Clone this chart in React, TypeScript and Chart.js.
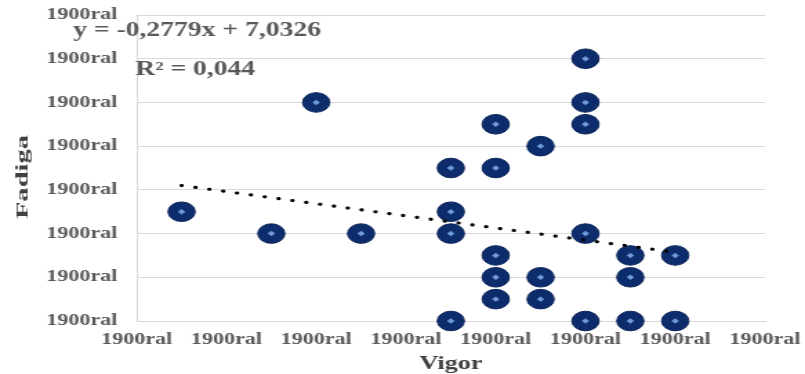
import { useEffect, useRef } from 'react';
import { Chart, registerables } from 'chart.js';

Chart.register(...registerables);

// ---- data ----
const vigor = [3, 5, 7, 6, 9, 9, 9, 9, 10, 10, 10, 10, 10, 11, 11, 11, 12, 12, 12, 12, 12, 13, 13, 13, 14, 14];
const fadiga = [5, 4, 4, 10, 7, 5, 4, 0, 9, 7, 3, 2, 1, 8, 2, 1, 12, 10, 9, 4, 0, 3, 2, 0, 3, 0];
const trendSlope = -0.2779;
const trendIntercept = 7.0326;
const trendRange = [3, 14];
const xAxisRange = [2, 16, 2];
const yAxisRange = [0, 14, 2];
const tickLabel = '1900ral';
const equationText = 'y = -0,2779x + 7,0326';
const r2Text = 'R² = 0,044';
const xTitle = 'Vigor';
const yTitle = 'Fadiga';

const STRETCH = 1.38;
const W = Math.round(805 / STRETCH);
const H = 374;
const SERIF = '"Liberation Serif", "Times New Roman", serif';

const textPlugin = {
  id: 'extraTexts',
  afterDraw(chart: any) {
    const { ctx } = chart;
    ctx.save();
    ctx.fillStyle = '#595959';
    ctx.font = `bold 20px ${SERIF}`;
    ctx.textBaseline = 'middle';
    ctx.textAlign = 'left';
    ctx.fillText(equationText, 53, 31);
    ctx.fillText(r2Text, 98, 70);
    ctx.restore();

    ctx.save();
    ctx.fillStyle = '#404040';
    ctx.translate(16.3, 177);
    ctx.rotate(-Math.PI / 2);
    ctx.scale(2.2, 1);
    ctx.font = `bold 13px ${SERIF}`;
    ctx.textAlign = 'center';
    ctx.textBaseline = 'middle';
    ctx.fillText(yTitle, 0, 0);
    ctx.restore();
  },
};

export default function App() {
  const ref = useRef<HTMLCanvasElement | null>(null);

  useEffect(() => {
    document.body.style.margin = '0';
    document.body.style.overflow = 'hidden';
    const canvas = ref.current!;
    const points = vigor.map((x, i) => ({ x, y: fadiga[i] }));
    const trend = trendRange.map((x) => ({ x, y: trendSlope * x + trendIntercept }));

    const chart = new Chart(canvas, {
      type: 'scatter',
      data: {
        datasets: [
          {
            type: 'line',
            label: 'trend',
            data: trend,
            borderColor: '#000000',
            borderWidth: 3.2,
            borderDash: [0.1, 10.1],
            borderCapStyle: 'round',
            pointRadius: 0,
            fill: false,
            order: 0,
            clip: false,
          } as any,
          {
            label: 'inner',
            data: points,
            pointStyle: 'rectRot',
            pointRadius: 2.7,
            backgroundColor: '#6f9bd8',
            borderWidth: 0,
            order: 1,
            clip: false,
          } as any,
          {
            label: 'Fadiga',
            data: points,
            pointStyle: 'circle',
            pointRadius: 9.8,
            backgroundColor: '#0d2c6b',
            borderColor: '#0a2358',
            borderWidth: 1,
            order: 2,
            clip: false,
          } as any,
        ],
      },
      options: {
        animation: false,
        responsive: false,
        devicePixelRatio: 1,
        layout: { padding: { left: 33, right: 29, top: 15, bottom: 0 } },
        plugins: {
          legend: { display: false },
          tooltip: { enabled: false },
        },
        scales: {
          x: {
            type: 'linear',
            min: xAxisRange[0],
            max: xAxisRange[1],
            grid: { display: false, drawTicks: false },
            border: { display: true, color: '#d9d9d9', width: 1 },
            afterFit: (s: any) => {
              s.height = 53;
              s.paddingLeft = 0;
              s.paddingRight = 0;
            },
            ticks: {
              stepSize: xAxisRange[2],
              autoSkip: false,
              maxRotation: 0,
              padding: 9,
              color: '#595959',
              font: { family: SERIF, size: 16, weight: 'bold' },
              callback: () => tickLabel,
            },
            title: {
              display: true,
              text: xTitle,
              color: '#404040',
              font: { family: SERIF, size: 19, weight: 'bold', lineHeight: 1 },
              padding: { top: 6, bottom: 0 },
            },
          },
          y: {
            type: 'linear',
            min: yAxisRange[0],
            max: yAxisRange[1],
            grid: { display: true, color: '#d9d9d9', lineWidth: 1, drawTicks: false },
            border: { display: true, color: '#d9d9d9', width: 1 },
            afterFit: (s: any) => {
              s.width = 66;
              s.paddingTop = 0;
              s.paddingBottom = 0;
            },
            ticks: {
              stepSize: yAxisRange[2],
              padding: 14,
              color: '#595959',
              font: { family: SERIF, size: 16, weight: 'bold' },
              callback: () => tickLabel,
            },
          },
        },
      } as any,
      plugins: [textPlugin],
    });
    return () => chart.destroy();
  }, []);

  return (
    <div style={{ width: 805, height: H, overflow: 'hidden', position: 'relative' }}>
      <canvas
        ref={ref}
        width={W}
        height={H}
        style={{
          width: W,
          height: H,
          display: 'block',
          transform: `scaleX(${805 / W})`,
          transformOrigin: '0 0',
          filter: 'blur(0.5px)',
        }}
      />
    </div>
  );
}
